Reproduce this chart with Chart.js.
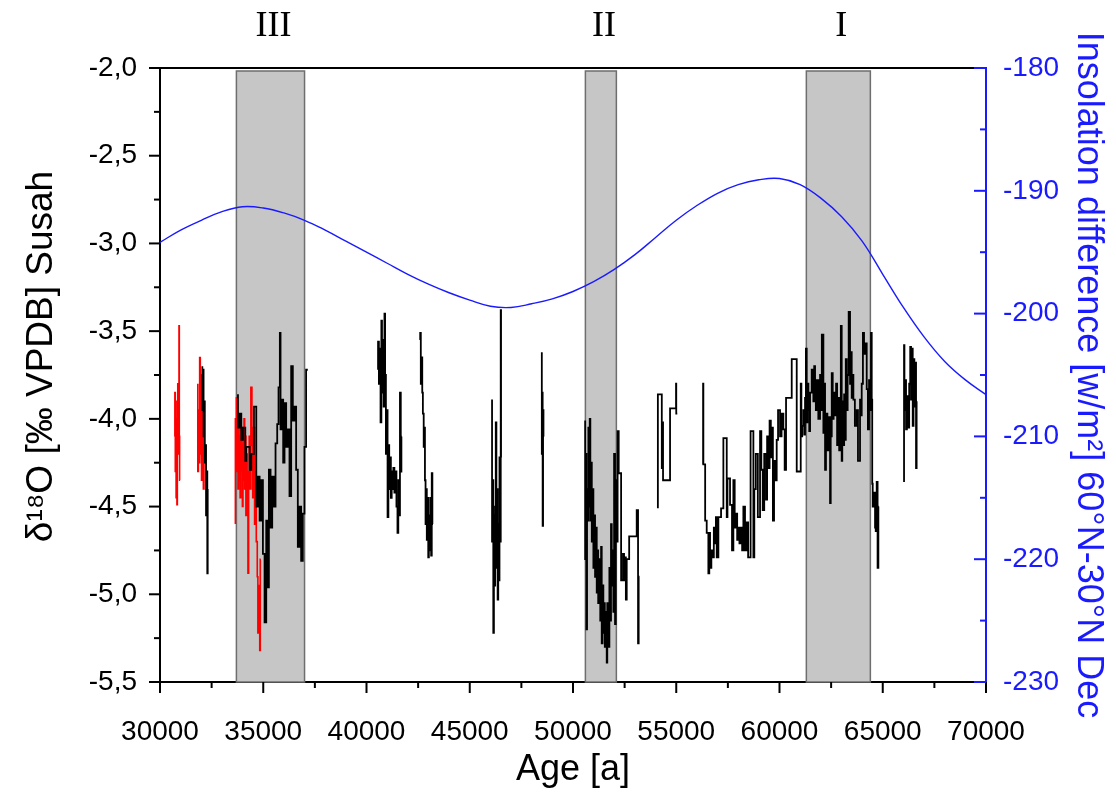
<!DOCTYPE html>
<html>
<head>
<meta charset="utf-8">
<script src="https://cdn.jsdelivr.net/npm/chart.js@4.4.1/dist/chart.umd.min.js"></script>
<style>
html,body{margin:0;padding:0;background:#fff;}
canvas{display:block;}
</style>
</head>
<body>
<canvas id="c" width="1116" height="792"></canvas>
<script>
// ---------- DATA ----------
const blackAge = [
 32050,32080,32110,32140,32170,32200,32230,32260,32290,32310,32330, 32800,
 33776,33856,33937,34017,34130,34178,34340,34420,34549,34662,34742,34823,34903,34984,35064,35145,35225,35273,35354,35434,35515,35595,35676,35740,35804,35837,35901,35965,36030,36110,36191,36271,36352,36432,36513,36593,36674,36754,36835,36915,36996,37076,37157, 39000,
 40560,40600,40640,40680,40720,40750,40790,40830,40870,40900,40940,40980,41020,41060,41100,41140,41180,41220,41260,41300,41350,41400,41450,41500,41540,41580,41620,41660,41690,41710, 42200,
 42600,42630,42660,42700,42730,42770,42800,42830,42860,42890,42920,42950,42990,43020,43060,43090,43130,43160,43190,43220, 45000,
 46080,46110,46140,46170,46200,46230,46260,46290,46320,46350,46380,46410,46440,46470,46500,46515,46540, 47500,
 48490,48510,48530,48550,48570,48600, 49500,
 50590,50620,50650,50680,50710,50745,50780,50810,50840,50874,50910,50950,50987,51020,51068,51100,51149,51180,51220,51278,51320,51360,51391,51430,51470,51504,51540,51580,51633,51660,51700,51762,51800,51840,51875,51910,51955,51990,52036,52070,52117,52160,52213,52260,52330,52420,52472,52520,52560,52601,52650,52720,52780,52900,53085,53150,53180,53220, 53700,
 54110,54134,54300,54343,54360,54380,54700,54720,54990,55000,55050, 55700,
 56300,56313,56400,56475,56555,56600,56637,56700,56766,56820,56879,56920,56960,57000,57040,57170,57282,57445,57480,57530,57605,57700,57766,57830,57895,57950,58008,58060,58121,58190,58250,58330,58411,58480,58541,58600,58735,58780,58850,58950,59058,59120,59187,59260,59349,59400,59460,59520,59580,59622,59680,59736,59800,59864,59930,60026,60100,60187,60250,60317,60592,60834,
 61028,61060,61100,61157,61200,61237,61280,61318,61350,61399,61440,61480,61560,61641,61680,61722,61760,61802,61880,61964,62000,62050,62125,62160,62206,62250,62319,62360,62448,62480,62530,62577,62620,62690,62740,62790,62851,62890,62932,62970,63012,63040,63093,63130,63174,63210,63255,63300,63350,63416,63450,63497,63540,63578,63650,63739,63800,63900,63940,63981,64040,64094,64140,64223,64280,64336,64380,64430,64466,64490,64514,64560,64627,64660,64707,64750,64788,64810, 65400,
 66031,66050,66090,66128,66170,66241,66280,66330,66370,66410,66451,66490,66531,66570,66612,66640,66660
];
const blackD18O = [
 -3.70,-3.95,-3.72,-4.10,-3.90,-4.25,-4.15,-4.55,-4.30,-4.88,-4.40, null,
 -3.86,-4.05,-3.97,-4.12,-4.05,-4.24,-4.16,-4.29,-4.20,-3.93,-4.50,-4.33,-4.58,-4.35,-4.77,-5.16,-4.58,-4.96,-4.29,-4.62,-4.33,-4.50,-4.14,-4.03,-3.82,-3.51,-4.06,-3.89,-4.25,-3.91,-4.16,-4.06,-4.44,-3.70,-4.01,-3.93,-4.29,-4.73,-4.50,-4.81,-4.54,-4.16,-3.72, null,
 -3.72,-3.56,-3.80,-3.60,-4.02,-3.44,-3.85,-3.55,-3.93,-3.40,-3.75,-4.20,-3.95,-4.56,-4.15,-4.40,-4.22,-4.45,-4.30,-4.40,-4.28,-4.42,-4.30,-4.50,-4.65,-4.35,-4.55,-3.85,-4.30,-4.10, null,
 -3.55,-3.51,-3.80,-3.65,-3.85,-3.97,-4.16,-4.05,-4.35,-4.60,-4.40,-4.69,-4.45,-4.79,-4.55,-4.75,-4.45,-4.78,-4.31,-4.60, null,
 -3.89,-4.70,-4.35,-5.22,-4.55,-4.95,-4.50,-4.02,-4.85,-4.40,-5.03,-4.60,-4.92,-4.22,-4.70,-3.38,-4.22, null,
 -3.62,-4.20,-3.85,-4.61,-3.95,-4.10, null,
 -4.01,-4.80,-4.20,-5.20,-4.40,-4.58,-4.05,-4.50,-4.00,-4.58,-4.25,-4.70,-4.40,-4.85,-4.55,-4.90,-4.62,-4.99,-4.75,-5.05,-4.80,-5.15,-4.73,-5.28,-4.95,-5.22,-5.05,-5.30,-5.10,-5.39,-5.05,-5.30,-4.85,-5.15,-4.60,-4.95,-4.75,-5.10,-4.20,-5.17,-4.35,-4.70,-4.07,-4.31,-4.31,-4.92,-4.77,-4.92,-4.79,-5.03,-4.80,-4.80,-4.67,-4.67,-4.67,-4.52,-5.28,-4.90, null,
 -4.51,-3.86,-3.86,-4.28,-4.02,-4.35,-4.35,-3.94,-3.94,-3.80,-3.97, null,
 -4.26,-3.80,-4.26,-4.58,-4.65,-4.88,-4.65,-4.85,-4.75,-4.79,-4.62,-4.71,-4.56,-4.79,-4.79,-4.56,-4.51,-4.11,-4.56,-4.34,-4.34,-4.49,-4.75,-4.35,-4.62,-4.54,-4.69,-4.62,-4.71,-4.62,-4.75,-4.50,-4.75,-4.59,-4.79,-4.79,-4.07,-4.79,-4.40,-4.20,-4.56,-4.07,-4.29,-4.52,-4.20,-4.46,-4.10,-4.28,-4.01,-4.22,-4.05,-4.58,-4.24,-4.35,-4.12,-3.95,-4.10,-3.97,-4.06,-4.29,-3.88,-3.66,
 -4.30,-3.80,-4.10,-4.04,-3.95,-4.09,-3.88,-3.60,-4.02,-3.80,-3.95,-4.07,-3.85,-3.72,-3.90,-3.70,-3.80,-3.95,-3.78,-4.00,-3.75,-3.95,-3.52,-4.08,-3.80,-4.29,-3.97,-4.18,-3.99,-4.48,-4.10,-3.74,-4.00,-3.85,-3.98,-3.80,-4.15,-3.88,-4.18,-3.90,-3.47,-4.24,-3.90,-4.15,-3.86,-4.12,-3.66,-3.95,-3.75,-3.39,-3.80,-3.62,-3.88,-3.75,-3.89,-4.04,-3.95,-4.24,-3.89,-3.98,-3.80,-3.51,-3.63,-3.57,-3.83,-4.06,-3.78,-3.95,-3.51,-3.89,-4.37,-4.50,-4.42,-4.62,-4.64,-4.36,-4.85,-4.50, null,
 -4.36,-3.58,-3.95,-3.78,-4.06,-3.87,-4.05,-3.80,-3.59,-3.89,-3.60,-4.04,-3.66,-3.93,-3.68,-4.28,-3.90
];
const redAge = [
 30720,30740,30760,30780,30800,30820,30840,30860,30880,30900,30920,30935,30950,30970, 31400,
 31830,31860,31890,31920,31950,31980,32010,32040,32070,32100,32130,32160, 32900,
 33650,33670,33700,33728,33750,33776,33800,33830,33856,33880,33910,33937,33960,33990,34017,34040,34070,34098,34130,34160,34190,34220,34259,34291,34320,34360,34400,34452,34490,34530,34581,34620,34662,34710,34740,34774,34800,34830,34855,34880
];
const redD18O = [
 -4.10,-3.85,-4.30,-3.90,-4.45,-4.05,-4.49,-4.00,-3.80,-4.20,-3.95,-3.47,-4.10,-4.35, null,
 -3.80,-4.30,-3.95,-4.25,-3.65,-4.20,-3.75,-4.35,-3.85,-4.05,-4.40,-4.10, null,
 -4.60,-4.00,-4.25,-3.88,-4.30,-4.05,-4.40,-3.98,-4.35,-4.10,-4.45,-4.00,-4.30,-4.15,-4.50,-4.05,-4.35,-4.00,-4.40,-4.10,-4.55,-4.20,-4.45,-4.88,-4.30,-4.10,-4.40,-3.82,-4.15,-4.45,-4.05,-4.60,-4.30,-4.70,-4.90,-5.22,-4.95,-5.10,-5.32,-4.80
];
const insolAge = [30000,31000,32000,33000,34000,35000,36000,37000,38000,39000,40000,41000,42000,43000,44000,45000,46000,47000,48000,49000,50000,51000,52000,53000,54000,55000,56000,57000,58000,59000,60000,61000,62000,63000,64000,65000,66000,67000,68000,69000,70000];
const insolDiff = [-194.2,-193.2,-192.4,-191.7,-191.3,-191.4,-191.8,-192.4,-193.2,-194.1,-195.0,-195.9,-196.8,-197.6,-198.3,-198.9,-199.4,-199.5,-199.2,-198.8,-198.2,-197.4,-196.4,-195.2,-193.8,-192.4,-191.2,-190.2,-189.5,-189.1,-189.0,-189.5,-190.6,-192.1,-194.1,-196.8,-199.5,-201.9,-203.9,-205.4,-206.6];
const zoneStart = [33700, 50600, 61300];
const zoneEnd   = [37000, 52100, 64400];
const zoneLabel = ['III', 'II', 'I'];

// ---------- CHART ----------
const BLUE = '#1a1aff';
const SANS = '"Liberation Sans", Arial, sans-serif';
const pts = (xs, ys) => xs.map((a, i) => ({x: a, y: ys[i]}));

const decor = {
  id: 'decor',
  beforeDatasetsDraw(chart) {
    const {ctx, scales: {x, y}} = chart;
    ctx.save();
    zoneStart.forEach((s, i) => {
      const x0 = x.getPixelForValue(s), x1 = x.getPixelForValue(zoneEnd[i]);
      const y0 = y.getPixelForValue(-2.0) + 3, y1 = y.getPixelForValue(-5.5);
      ctx.fillStyle = '#c6c6c6';
      ctx.fillRect(x0, y0, x1 - x0, y1 - y0);
      ctx.strokeStyle = '#6e6e6e';
      ctx.lineWidth = 1.5;
      ctx.strokeRect(x0, y0, x1 - x0, y1 - y0);
    });
    ctx.restore();
  },
  afterDraw(chart) {
    const {ctx, chartArea: a, scales: {x, y, y1}} = chart;
    ctx.save();
    ctx.lineWidth = 2;
    ctx.strokeStyle = '#000';
    ctx.beginPath(); ctx.moveTo(a.left, a.top); ctx.lineTo(a.right, a.top); ctx.stroke();
    for (let i = 0; i <= 14; i++) {
      const v = -5.5 + i * 0.25, p = y.getPixelForValue(v), len = i % 2 === 0 ? 11 : 6;
      ctx.beginPath(); ctx.moveTo(a.left - len, p); ctx.lineTo(a.left, p); ctx.stroke();
    }
    for (let i = 0; i <= 16; i++) {
      const v = 30000 + i * 2500, p = x.getPixelForValue(v), len = i % 2 === 0 ? 11 : 6;
      ctx.beginPath(); ctx.moveTo(p, a.bottom); ctx.lineTo(p, a.bottom + len); ctx.stroke();
    }
    ctx.strokeStyle = BLUE;
    for (let i = 0; i <= 10; i++) {
      const v = -230 + i * 5, p = y1.getPixelForValue(v), len = i % 2 === 0 ? 12 : 6;
      ctx.beginPath(); ctx.moveTo(a.right - len, p); ctx.lineTo(a.right, p); ctx.stroke();
    }
    ctx.fillStyle = '#000';
    ctx.font = '36px "Liberation Serif", "Times New Roman", serif';
    ctx.textAlign = 'center';
    ctx.textBaseline = 'middle';
    zoneStart.forEach((s, i) => {
      const cx = (x.getPixelForValue(s) + x.getPixelForValue(zoneEnd[i])) / 2;
      ctx.fillText(zoneLabel[i], cx + 3, 27);
    });
    ctx.restore();
  }
};

new Chart(document.getElementById('c'), {
  type: 'line',
  data: {
    datasets: [
      { label: 'insolation', data: pts(insolAge, insolDiff), yAxisID: 'y1', borderColor: BLUE, borderWidth: 1.4,
        pointRadius: 0, tension: 0.4, fill: false },
      { label: 'black', data: pts(blackAge, blackD18O), yAxisID: 'y', borderColor: '#000', borderWidth: 1.8,
        pointRadius: 0, stepped: 'after', spanGaps: false, fill: false },
      { label: 'red', data: pts(redAge, redD18O), yAxisID: 'y', borderColor: '#ff0000', borderWidth: 1.6,
        pointRadius: 0, stepped: 'after', spanGaps: false, fill: false }
    ]
  },
  options: {
    responsive: false,
    devicePixelRatio: 1,
    animation: false,
    layout: { padding: { top: 68, left: 0, right: 0, bottom: 0 } },
    plugins: { legend: { display: false }, tooltip: { enabled: false } },
    scales: {
      x: {
        type: 'linear', min: 30000, max: 70000,
        afterFit: s => { s.height = 110; },
        grid: { display: false },
        border: { display: true, color: '#000', width: 2 },
        ticks: { stepSize: 5000, padding: 25, color: '#000', maxRotation: 0, font: { family: SANS, size: 28 },
                 callback: v => String(v) },
        title: { display: true, text: 'Age [a]', color: '#000', font: { family: SANS, size: 36 }, padding: { top: 0, bottom: 0 } }
      },
      y: {
        position: 'left', min: -5.5, max: -2.0,
        afterFit: s => { s.width = 160; },
        grid: { display: false },
        border: { display: true, color: '#000', width: 2 },
        ticks: { stepSize: 0.5, padding: 15, color: '#000', font: { family: SANS, size: 28 },
                 callback: v => v.toFixed(1).replace('.', ',') },
        title: { display: true, text: '\u2002\u2002δ¹⁸O [‰ VPDB] Susah', color: '#000', font: { family: SANS, size: 37 }, padding: { top: 20, bottom: 0 } }
      },
      y1: {
        position: 'right', min: -230, max: -180,
        afterFit: s => { s.width = 130; },
        grid: { display: false },
        border: { display: true, color: BLUE, width: 2 },
        ticks: { stepSize: 10, padding: 9, color: BLUE, font: { family: SANS, size: 28 },
                 callback: v => String(v) },
        title: { display: true, text: 'Insolation difference [w/m²] 60°N-30°N Dec', color: BLUE, font: { family: SANS, size: 36 }, padding: { top: 6, bottom: 0 } }
      }
    }
  },
  plugins: [decor]
});
</script>
</body>
</html>
